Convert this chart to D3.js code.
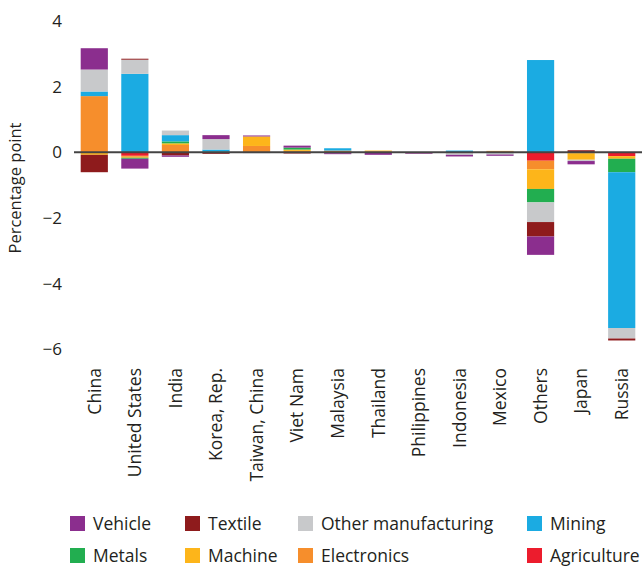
<!DOCTYPE html>
<html>
<head>
<meta charset="utf-8">
<script src="https://cdn.jsdelivr.net/npm/d3@7"></script>
<style>
  html, body { margin: 0; padding: 0; background: #fff; }
  svg { display: block; }
  text { font-family: "Open Sans", "DejaVu Sans", sans-serif; fill: #231f20; }
</style>
</head>
<body>
<svg id="chart" width="642" height="569"></svg>
<script>
const categories = ["China", "United States", "India", "Korea, Rep.", "Taiwan, China", "Viet Nam",
  "Malaysia", "Thailand", "Philippines", "Indonesia", "Mexico", "Others", "Japan", "Russia"];

const agriculture = [0, -0.11, 0, 0, 0, 0, 0, 0, 0, 0, 0, -0.26, 0, -0.12];
const electronics = [1.71, -0.03, 0.22, 0, 0.19, 0.04, 0.05, 0.02, 0, -0.03, 0.03, -0.26, -0.03, 0];
const machine     = [-0.08, -0.03, 0.05, 0, 0.29, 0.04, 0, 0.03, 0, 0, 0.01, -0.6, -0.2, -0.08];
const metals      = [0, -0.03, 0.06, 0.02, 0, 0.06, 0, 0, 0, 0, 0, -0.41, 0, -0.41];
const mining      = [0.14, 2.39, 0.19, 0.06, 0, 0, 0.07, 0, 0, 0.05, -0.03, 2.81, 0, -4.75];
const otherMfg    = [0.67, 0.43, 0.14, 0.32, -0.03, 0, 0, -0.02, 0, -0.05, -0.04, -0.6, -0.04, -0.32];
const textile     = [-0.53, 0.03, -0.1, -0.05, 0, -0.04, -0.03, 0, -0.03, 0, 0, -0.44, 0.06, -0.06];
const vehicle     = [0.65, -0.3, -0.04, 0.12, 0.03, 0.06, -0.03, -0.06, -0.02, -0.05, -0.04, -0.56, -0.1, 0];

const seriesNames = ["Agriculture", "Electronics", "Machine", "Metals", "Mining", "Other manufacturing", "Textile", "Vehicle"];
const seriesValues = [agriculture, electronics, machine, metals, mining, otherMfg, textile, vehicle];
const seriesColors = ["#ec1c2d", "#f68e2c", "#fdb51a", "#22ae50", "#1babe2", "#c8c9cb", "#8e1b1c", "#8b2e8e"];

const legendOrder = ["Vehicle", "Textile", "Other manufacturing", "Mining", "Metals", "Machine", "Electronics", "Agriculture"];
const yTicks = [4, 2, 0, -2, -4, -6];

const svg = d3.select("#chart");

const rows = categories.map((c, i) => {
  const r = { category: c };
  seriesNames.forEach((s, j) => { r[s] = seriesValues[j][i]; });
  return r;
});

const color = d3.scaleOrdinal().domain(seriesNames).range(seriesColors);

const x = d3.scaleBand().domain(categories).range([74, 642]).paddingInner(0.33).paddingOuter(0.165);
const y = d3.scaleLinear().domain([-6, 4]).range([349, 21]);

const stacked = d3.stack().keys(seriesNames).offset(d3.stackOffsetDiverging)(rows);

svg.append("g").selectAll("g").data(stacked).join("g")
  .attr("fill", d => color(d.key))
  .selectAll("rect").data(d => d).join("rect")
  .attr("x", d => x(d.data.category))
  .attr("width", x.bandwidth())
  .attr("y", d => y(Math.max(d[0], d[1])))
  .attr("height", d => Math.abs(y(d[0]) - y(d[1])));

// zero line
svg.append("line")
  .attr("x1", 74).attr("x2", 642)
  .attr("y1", y(0)).attr("y2", y(0))
  .attr("stroke", "#444").attr("stroke-width", 2);

// y axis labels
const fmt = d3.format("d");
svg.append("g").selectAll("text").data(yTicks).join("text")
  .attr("x", 62).attr("y", d => y(d))
  .attr("dy", "0.36em")
  .attr("text-anchor", "end")
  .attr("font-size", 17)
  .text(d => fmt(d));

svg.append("text")
  .attr("transform", `translate(21,${(y(4) + y(-6)) / 2 + 3}) rotate(-90)`)
  .attr("text-anchor", "middle")
  .attr("font-size", 16.5)
  .text("Percentage point");

// x labels
svg.append("g").selectAll("text").data(categories).join("text")
  .attr("transform", d => `translate(${x(d) + x.bandwidth() / 2},368) rotate(-90)`)
  .attr("text-anchor", "end")
  .attr("dy", "0.36em")
  .attr("font-size", 17.5)
  .text(d => d);

// legend
const colX = [70, 185, 298, 527];
const rowY = [516, 548];
const lg = svg.append("g").selectAll("g").data(legendOrder).join("g")
  .attr("transform", (d, i) => `translate(${colX[i % 4]},${rowY[Math.floor(i / 4)]})`);
lg.append("rect").attr("width", 15).attr("height", 15).attr("fill", d => color(d));
lg.append("text").attr("x", 23).attr("y", 8).attr("dy", "0.36em")
  .attr("font-size", 17.5).text(d => d);
</script>
</body>
</html>
